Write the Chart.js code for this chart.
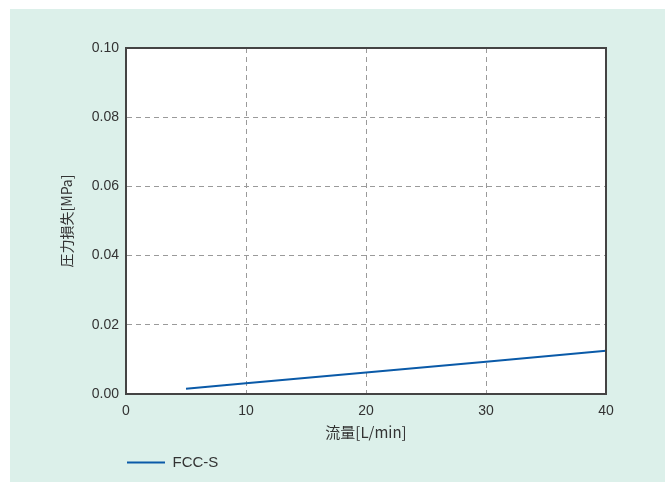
<!DOCTYPE html>
<html>
<head>
<meta charset="utf-8">
<script src="https://cdn.jsdelivr.net/npm/chart.js@4"></script>
<style>
  body { margin: 0; background: #fff; }
  #box { position: absolute; left: 10px; top: 9px; width: 655px; height: 473px; background: #dcf0ea; }
</style>
</head>
<body>
<div id="box"><canvas id="myChart" width="655" height="473"></canvas></div>
<script>
// 流量 vs 圧力損失
const flow = [5, 10, 20, 30, 40];
const pressureLoss = [0.0015, 0.0031, 0.0062, 0.0093, 0.0125];
const seriesName = 'FCC-S';
const xTicks = [0, 10, 20, 30, 40];
const yTicks = [0, 0.02, 0.04, 0.06, 0.08, 0.10];

const tickFont = { family: "'Liberation Sans', Arial, sans-serif", size: 14 };
const titleFont = { family: "'Noto Sans CJK JP', sans-serif", size: 15 };
const legendFont = { family: "'Liberation Sans', Arial, sans-serif", size: 15 };
const gridLook = { color: '#9a9a9a', lineWidth: 1, drawTicks: false };
const borderLook = { display: true, color: '#444', width: 2, dash: [5, 4] };

// white plot, frame round it, legend moved under the plot
const framePlugin = {
  id: 'frame',
  afterLayout(chart) {
    chart.legend.left = 107;
  },
  beforeDraw(chart) {
    const a = chart.chartArea, c = chart.ctx;
    c.save();
    c.fillStyle = '#fff';
    c.fillRect(a.left, a.top, a.right - a.left, a.bottom - a.top);
    c.restore();
  },
  afterDraw(chart) {
    const a = chart.chartArea, c = chart.ctx;
    c.save();
    c.setLineDash([]);
    c.strokeStyle = '#444';
    c.lineWidth = 2;
    c.strokeRect(a.left, a.top, a.right - a.left, a.bottom - a.top);
    c.restore();
  }
};

const ctx = document.getElementById('myChart');

new Chart(ctx, {
  type: 'line',
  data: {
    datasets: [{
      label: seriesName,
      data: flow.map((x, i) => ({ x: x, y: pressureLoss[i] })),
      borderColor: '#0a5aa8',
      backgroundColor: '#0a5aa8',
      borderWidth: 2,
      pointRadius: 0,
      pointStyle: 'line',
      tension: 0
    }]
  },
  options: {
    responsive: false,
    animation: false,
    layout: { padding: { top: 39, right: 59, left: 43, bottom: 2 } },
    plugins: {
      legend: {
        position: 'bottom',
        align: 'start',
        labels: { usePointStyle: true, pointStyleWidth: 38, color: '#333', font: legendFont, padding: 10 }
      },
      tooltip: { enabled: false }
    },
    scales: {
      x: {
        type: 'linear',
        min: 0, max: 40,
        afterBuildTicks: s => { s.ticks = xTicks.map(v => ({ value: v })); },
        afterFit: s => { s.height = 51; },
        grid: gridLook,
        border: borderLook,
        ticks: { color: '#333', font: tickFont, padding: 9 },
        title: { display: true, text: '流量[L/min]', color: '#333', font: titleFont, padding: { top: 4, bottom: 4 } }
      },
      y: {
        min: 0, max: 0.1,
        afterBuildTicks: s => { s.ticks = yTicks.map(v => ({ value: v })); },
        afterFit: s => { s.width = 73; },
        grid: gridLook,
        border: borderLook,
        ticks: { color: '#333', font: tickFont, padding: 7, callback: v => v.toFixed(2) },
        title: { display: true, text: '圧力損失[MPa]', color: '#333', font: Object.assign({}, titleFont, { size: 14 }), padding: { top: 5, bottom: 4 } }
      }
    }
  },
  plugins: [framePlugin]
});
</script>
</body>
</html>
